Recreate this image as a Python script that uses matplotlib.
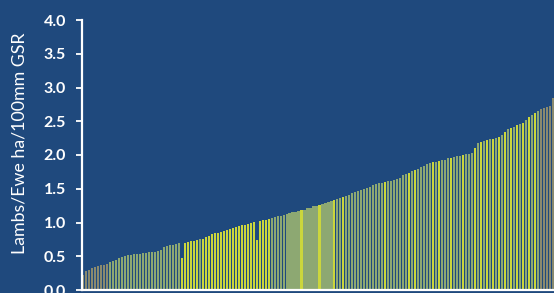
import matplotlib
matplotlib.use("Agg")
import matplotlib.pyplot as plt

values = [
    0.22, 0.28, 0.30, 0.32, 0.34, 0.36, 0.37, 0.37, 0.38, 0.41,
    0.43, 0.44, 0.47, 0.49, 0.51, 0.52, 0.52, 0.53, 0.53, 0.54,
    0.55, 0.55, 0.56, 0.57, 0.57, 0.58, 0.60, 0.63, 0.65, 0.66,
    0.66, 0.68, 0.69, 0.47, 0.70, 0.71, 0.72, 0.73, 0.74, 0.75,
    0.76, 0.78, 0.80, 0.83, 0.84, 0.85, 0.86, 0.88, 0.89, 0.90,
    0.92, 0.94, 0.95, 0.96, 0.97, 0.98, 0.99, 1.01, 0.74, 1.02,
    1.03, 1.04, 1.05, 1.06, 1.08, 1.09, 1.10, 1.11, 1.12, 1.14,
    1.15, 1.16, 1.17, 1.18, 1.19, 1.21, 1.22, 1.24, 1.25, 1.26,
    1.28, 1.29, 1.31, 1.32, 1.34, 1.35, 1.37, 1.38, 1.40, 1.41,
    1.43, 1.45, 1.46, 1.48, 1.50, 1.51, 1.53, 1.55, 1.57, 1.58,
    1.59, 1.60, 1.61, 1.62, 1.63, 1.64, 1.66, 1.70, 1.72, 1.74,
    1.76, 1.78, 1.80, 1.82, 1.84, 1.86, 1.88, 1.89, 1.90, 1.91,
    1.92, 1.93, 1.95, 1.96, 1.97, 1.98, 1.99, 2.00, 2.01, 2.02,
    2.03, 2.10, 2.18, 2.20, 2.21, 2.22, 2.23, 2.24, 2.25, 2.27,
    2.30, 2.34, 2.38, 2.40, 2.42, 2.44, 2.46, 2.48, 2.52, 2.56,
    2.59, 2.62, 2.65, 2.68, 2.70, 2.71, 2.72, 2.85,
]

# group codes per bar: g = grey-olive, s = sage, y = yellow
groups = (
    "ggggggggg"
    "ssssssssssssssssssssssss"
    "yyyyyysyyyyyyyyyyyyyyyyyyyyyyy"
    "ssssssssssysssssyssssyssysssssssssssssysssssssysysssssysysssysssyssssss"
)
groups = groups[:131]
groups += "ysysysysysysysysysysys"
groups += "ggggg"
groups = groups[:len(values)]

palette = {"g": "#8A8A6E", "s": "#8DA872", "y": "#CBD63C"}
yticks = [0.0, 0.5, 1.0, 1.5, 2.0, 2.5, 3.0, 3.5, 4.0]
ylabel = "Lambs/Ewe ha/100mm GSR"

bg = "#1F497D"
fig = plt.figure(figsize=(5.54, 2.93), dpi=100, facecolor=bg)
ax = fig.add_axes([81.5 / 554, 3 / 293, (554 - 81.5) / 554, 270 / 293])
ax.set_facecolor(bg)

xs = list(range(len(values)))
cols = [palette[g] for g in groups]
ax.bar(xs, values, width=0.72, color=cols, linewidth=0)

ax.set_xlim(-0.6, len(values) - 0.55)
ax.set_ylim(0, 4.0)
ax.set_yticks(yticks)
ax.set_yticklabels([f"{t:.1f}" for t in yticks])
ax.set_xticks([])

for s in ["top", "right"]:
    ax.spines[s].set_visible(False)
for s in ["left", "bottom"]:
    ax.spines[s].set_color("white")
    ax.spines[s].set_linewidth(1.6)

ax.tick_params(axis="y", colors="white", direction="out", length=4, width=1.3,
               labelsize=11.5, pad=7)
for lab in ax.get_yticklabels():
    lab.set_family("Lato")
    lab.set_fontweight("bold")
    lab.set_color("white")

fig.text(20 / 554, 1 - 143 / 293, ylabel, rotation=90, color="white",
         fontsize=12.8, family="Lato", ha="center", va="center")

fig.savefig("out.png", dpi=100, facecolor=bg)
